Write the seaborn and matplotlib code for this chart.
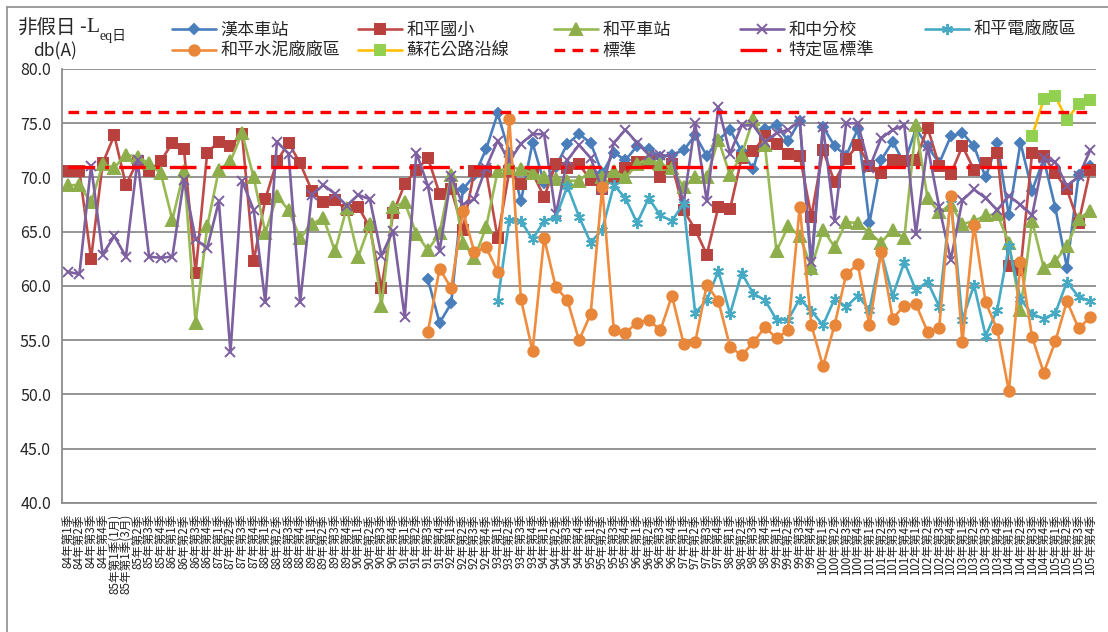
import numpy as np
import matplotlib
matplotlib.use("Agg")
import matplotlib.pyplot as plt
import seaborn as sns
from matplotlib.lines import Line2D

nan = np.nan

# category labels (quarters, 85年第1季 split in two)
quarters = ["84年第1季", "84年第2季", "84年第3季", "84年第4季",
            "85年第1季(1月)", "85年第1季(3月)", "85年第2季", "85年第3季", "85年第4季"]
quarters += [f"{y}年第{q}季" for y in range(86, 106) for q in range(1, 5)]

hanben_station = [nan] * 31 + [
    60.6, 56.6, 58.4, 68.9, 70.2, 72.6, 75.9, 72.3, 67.8, 73.2,
    69.5, 71.0, 73.1, 74.0, 73.2, 70.4, 72.3, 71.6, 72.9, 72.6,
    71.9, 72.1, 72.5, 73.9, 72.0, 73.5, 74.4, 72.4, 70.8, 74.5,
    74.8, 73.4, 75.2, 61.5, 74.7, 72.9, 72.0, 74.5, 65.8, 71.6,
    73.3, 71.3, 74.5, 72.9, 71.3, 73.8, 74.1, 72.9, 70.0, 73.2,
    66.5, 73.2, 68.8, 71.7, 67.2, 61.7, 70.2, 71.1]

heping_school = [
    70.6, 70.6, 62.5, 71.3, 73.9, 69.3, 71.5, 70.6, 71.5, 73.2,
    72.6, 61.2, 72.3, 73.3, 72.9, 74.0, 62.3, 68.0, 71.5, 73.2,
    71.3, 68.8, 67.7, 67.9, 67.0, 67.3, 65.4, 59.8, 66.7, 69.4,
    70.7, 71.8, 68.5, 68.9, 65.2, 70.6, 70.6, 64.4, 70.6, 69.4,
    70.4, 68.2, 71.2, 70.9, 71.2, 69.8, 68.9, 70.0, 70.9, 71.4,
    71.4, 70.0, 71.2, 67.0, 65.2, 62.9, 67.3, 67.1, 71.8, 72.4,
    73.8, 73.1, 72.2, 72.0, 66.4, 72.5, 69.6, 71.7, 73.0, 71.1,
    70.4, 71.6, 71.5, 71.6, 74.6, 71.1, 70.3, 72.9, 70.7, 71.3,
    72.3, 61.8, 61.5, 72.3, 72.0, 70.4, 68.9, 65.8, 70.7]

heping_station = [
    69.3, 69.3, 67.7, 71.2, 70.9, 72.1, 71.9, 71.3, 70.4, 66.1,
    70.6, 56.6, 65.5, 70.7, 71.5, 74.1, 70.0, 64.9, 68.3, 67.0,
    64.4, 65.7, 66.3, 63.2, 67.2, 62.7, 65.7, 58.2, 67.3, 67.7,
    64.8, 63.3, 64.9, 70.2, 64.0, 62.6, 65.4, 70.6, 70.9, 70.8,
    70.4, 70.0, 69.9, 69.7, 69.7, 70.6, 70.0, 70.6, 70.0, 71.2,
    71.8, 71.2, 70.9, 69.1, 70.0, 70.0, 73.5, 70.2, 72.1, 75.4,
    73.0, 63.2, 65.5, 64.6, 61.7, 65.2, 63.6, 65.9, 65.8, 64.9,
    64.0, 65.2, 64.4, 74.8, 68.1, 66.8, 67.5, 65.7, 66.0, 66.5,
    66.6, 64.0, 57.8, 66.0, 61.7, 62.3, 63.7, 66.2, 66.9]

hezhong_branch = [
    61.3, 61.1, 71.1, 62.9, 64.6, 62.7, 71.6, 62.7, 62.6, 62.7,
    69.8, 64.3, 63.5, 67.8, 53.9, 69.7, 67.0, 58.5, 73.3, 72.2,
    58.5, 68.4, 69.3, 68.5, 67.4, 68.4, 68.0, 62.8, 65.1, 57.1,
    72.3, 69.2, 63.2, 70.1, 67.5, 68.0, 70.9, 73.4, 71.5, 73.1,
    74.0, 74.0, 66.6, 71.6, 73.0, 71.8, 68.9, 73.2, 74.4, 73.2,
    72.1, 72.1, 71.9, 67.6, 75.0, 67.8, 76.5, 72.2, 74.8, 74.8,
    73.3, 74.1, 74.4, 75.2, 62.2, 74.7, 66.0, 75.0, 75.0, 70.9,
    73.6, 74.4, 74.8, 64.8, 72.9, 67.3, 62.4, 67.9, 68.9, 68.1,
    67.0, 68.3, 67.5, 66.5, 71.8, 71.4, 69.2, 70.1, 72.5]

power_plant = [nan] * 37 + [
    58.6, 66.1, 66.0, 64.3, 66.0, 66.3, 69.2, 66.4, 64.0, 65.2,
    69.3, 68.1, 65.8, 68.1, 66.5, 66.0, 67.6, 57.5, 58.7, 61.4,
    57.4, 61.2, 59.3, 58.7, 56.9, 56.9, 58.8, 57.7, 56.4, 58.8,
    58.1, 59.1, 57.8, 63.1, 59.1, 62.2, 59.6, 60.4, 58.1, 68.0,
    56.9, 60.1, 55.4, 57.8, 63.7, 58.8, 57.4, 57.0, 57.5, 60.4,
    59.0, 58.6]

cement_plant = [nan] * 31 + [
    55.8, 61.6, 59.8, 66.9, 63.1, 63.6, 61.3, 75.4, 58.8, 54.0,
    64.4, 59.9, 58.7, 55.0, 57.4, 69.1, 55.9, 55.7, 56.6, 56.9,
    55.9, 59.1, 54.7, 54.8, 60.1, 58.6, 54.4, 53.6, 54.8, 56.2,
    55.2, 55.9, 67.3, 56.4, 52.6, 56.4, 61.1, 62.0, 56.4, 63.1,
    57.0, 58.2, 58.3, 55.8, 56.1, 68.3, 54.8, 65.6, 58.5, 56.0,
    50.3, 62.2, 55.3, 52.0, 54.9, 58.6, 56.1, 57.1]

suhua_highway = [nan] * 83 + [73.8, 77.2, 77.5, 75.3, 76.8, 77.1]

standard = [76.0] * len(quarters)
special_standard = [71.0] * len(quarters)

sns.set_style("white")
plt.rcParams['font.family'] = ['Noto Sans CJK TC', 'DejaVu Sans']

W, H = 1108, 632
fig = plt.figure(figsize=(W / 100, H / 100), dpi=100)
ax = fig.add_axes([62 / W, 1 - 503 / H, (1096 - 62) / W, (503 - 69) / H])

x = np.arange(len(quarters))

# (name, values, line colour, marker, marker colour, marker size)
series = [
    ("漢本車站", hanben_station, "#4A7EBB", "D", "#4A7EBB", 5.5),
    ("和平國小", heping_school, "#BE4B48", "s", "#B8403D", 7.5),
    ("和平車站", heping_station, "#98B954", "^", "#8EAE4C", 8),
    ("和中分校", hezhong_branch, "#7D60A0", "x", "#7D60A0", 7.5),
    ("和平電廠廠區", power_plant, "#46AAC5", (6, 2, 0), "#46AAC5", 8),
    ("和平水泥廠廠區", cement_plant, "#F08C3E", "o", "#E8863A", 7.5),
    ("蘇花公路沿線", suhua_highway, "#FFC000", "s", "#92D050", 7.5),
]

handles = {}
for name, vals, lc, mk, mc, ms in series:
    sns.lineplot(x=x, y=vals, ax=ax, color=lc, lw=1.9, marker=mk,
                 markersize=ms, markerfacecolor=mc, markeredgecolor=mc,
                 markeredgewidth=1.4, legend=False)
    handles[name] = Line2D([], [], color=lc, lw=1.9, marker=mk, markersize=ms,
                           markerfacecolor=mc, markeredgecolor=mc,
                           markeredgewidth=1.4)

sns.lineplot(x=x, y=standard, ax=ax, color="#FF0000", lw=2.4, legend=False)
ax.lines[-1].set_dashes([3.2, 2.2])
sns.lineplot(x=x, y=special_standard, ax=ax, color="#FF0000", lw=2.4, legend=False)
ax.lines[-1].set_dashes([8, 3, 1.2, 3])
handles["標準"] = Line2D([], [], color="#FF0000", lw=2.4, dashes=[3.2, 2.2])
handles["特定區標準"] = Line2D([], [], color="#FF0000", lw=2.4, dashes=[8, 3, 1.2, 3])

# axes styling
ax.set_xlim(-0.5, len(quarters) - 0.5)
ax.set_ylim(40, 80)
ax.set_yticks(np.arange(40, 81, 5))
ax.set_yticklabels([f"{v:.1f}" for v in np.arange(40, 81, 5)], fontsize=11.5)
ax.yaxis.grid(True, color="#8C8C8C", lw=1.3)
ax.set_axisbelow(True)
for s in ["top", "right"]:
    ax.spines[s].set_visible(False)
for s in ["left", "bottom"]:
    ax.spines[s].set_color("#8C8C8C")
    ax.spines[s].set_linewidth(1.3)
ax.tick_params(axis="y", length=5, color="#8C8C8C", width=1.2, pad=3)

ax.set_xticks(np.arange(-0.5, len(quarters), 1.0))
ax.set_xticklabels([])
ax.set_xticks(x, minor=True)
ax.set_xticklabels(quarters, minor=True, rotation=90, fontsize=8.4, color="#222222")
ax.tick_params(axis="x", which="major", length=5, color="#8C8C8C", width=1.2)
ax.tick_params(axis="x", which="minor", length=0, pad=8)
ax.set_xlabel("")
ax.set_ylabel("")

# title
fig.text(18 / W, 1 - 28 / H, "非假日", fontsize=14, va="center", ha="left")
fig.text(79 / W, 1 - 28 / H, "-", fontsize=14, va="center", ha="left")
fig.text(86 / W, 1 - 28 / H, "L", fontsize=15.5, va="center", ha="left",
         family=["Liberation Serif", "Noto Sans CJK TC"])
fig.text(100 / W, 1 - 36 / H, "eq日", fontsize=10, va="center", ha="left",
         family=["Liberation Serif", "Noto Sans CJK TC"])
fig.text(33 / W, 1 - 51 / H, "db(A)", fontsize=12.5, va="center", ha="left")

# legend, one block per column
columns = [["漢本車站", "和平水泥廠廠區"], ["和平國小", "蘇花公路沿線"],
           ["和平車站", "標準"], ["和中分校", "特定區標準"], ["和平電廠廠區"]]
col_x = [172, 358, 554, 740, 925]
for cx, names in zip(col_x, columns):
    fig.legend([handles[n] for n in names], names, loc="upper left",
               bbox_to_anchor=(cx / W, 1 - 21 / H), frameon=False,
               fontsize=12.3, handlelength=2.6, handletextpad=0.25,
               borderpad=0, borderaxespad=0, labelspacing=0.15)

# chart border (top and left edges)
fig.add_artist(Line2D([7 / W, 1], [1 - 7 / H, 1 - 7 / H], color="#8C8C8C", lw=1.2))
fig.add_artist(Line2D([7 / W, 7 / W], [0, 1 - 7 / H], color="#8C8C8C", lw=1.2))

fig.savefig("out.png", dpi=100)
